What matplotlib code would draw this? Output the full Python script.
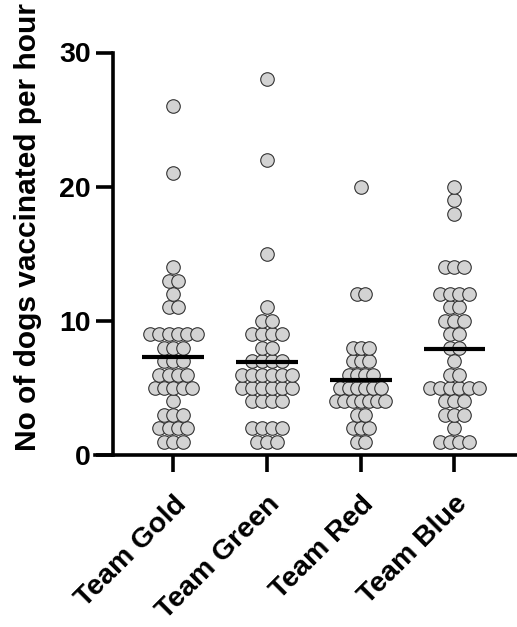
import numpy as np
import matplotlib
matplotlib.use("Agg")
import matplotlib.pyplot as plt

plt.rcParams['font.family'] = ['Liberation Sans', 'DejaVu Sans']
plt.rcParams['font.weight'] = 'bold'

teams = ["Team Gold", "Team Green", "Team Red", "Team Blue"]

gold = [26, 21, 14, 13, 13, 12, 11, 11, 9, 9, 9, 9, 9, 9, 8, 8, 8, 7, 7, 7,
        6, 6, 6, 6, 5, 5, 5, 5, 5, 4, 3, 3, 3, 2, 2, 2, 2, 1, 1, 1]
green = [28, 22, 15, 11, 10, 10, 9, 9, 9, 9, 8, 8, 7, 7, 7, 7,
         6, 6, 6, 6, 6, 6, 5, 5, 5, 5, 5, 5, 4, 4, 4, 4, 2, 2, 2, 2, 1, 1, 1]
red = [20, 12, 12, 8, 8, 8, 7, 7, 7, 6, 6, 6, 6, 5, 5, 5, 5, 5, 5,
       4, 4, 4, 4, 4, 4, 4, 3, 3, 2, 2, 2, 1, 1]
blue = [20, 19, 18, 14, 14, 14, 12, 12, 12, 12, 11, 11, 10, 10, 10, 9, 9,
        8, 8, 7, 6, 6, 5, 5, 5, 5, 5, 5, 4, 4, 4, 3, 3, 3, 2, 1, 1, 1, 1]
groups = [gold, green, red, blue]
yticks = [0, 10, 20, 30]

# style
spacing = [0.100, 0.107, 0.087, 0.105]
W, H = 517, 627
fig = plt.figure(figsize=(W / 100, H / 100), dpi=100)
ax = fig.add_axes([95 / W, 172 / H, 422 / W, 402.5 / H])

lw = 2.6
for i, vals in enumerate(groups):
    vals = np.asarray(vals)
    xs, ys = [], []
    for v in np.unique(vals):
        n = int(np.sum(vals == v))
        offs = (np.arange(n) - (n - 1) / 2) * spacing[i]
        xs.extend(i + offs)
        ys.extend([v] * n)
    ax.scatter(xs, ys, s=95, facecolor='#d3d3d3', edgecolor='#333333',
               linewidths=0.8, zorder=3, clip_on=False)
    m = vals.mean()
    ax.plot([i - 0.33, i + 0.33], [m, m], color='black', lw=3.0,
            solid_capstyle='butt', zorder=4)

ax.set_xlim(-0.836, 3.667)
ax.set_ylim(0, 30)
ax.spines['top'].set_visible(False)
ax.spines['right'].set_visible(False)
ax.spines['left'].set_position(('data', -0.647))
for s in ('left', 'bottom'):
    ax.spines[s].set_linewidth(lw)
    ax.spines[s].set_capstyle('projecting')

ax.set_yticks(yticks)
ax.set_yticklabels([str(t) for t in yticks], fontsize=20.5, fontweight='bold')
ax.set_xticks(range(len(teams)))
ax.set_xticklabels(teams, fontsize=20.5, fontweight='bold', rotation=45,
                   ha='right', va='top', rotation_mode='anchor')
ax.tick_params(axis='both', length=12, width=lw, color='black')
ax.tick_params(axis='y', pad=4)
ax.tick_params(axis='x', pad=14)

fig.text(28.5 / W, 1 - 227 / H, "No of dogs vaccinated per hour", rotation=90,
         ha='center', va='center', fontsize=21.5, fontweight='bold')

fig.savefig("out.png", dpi=100)
